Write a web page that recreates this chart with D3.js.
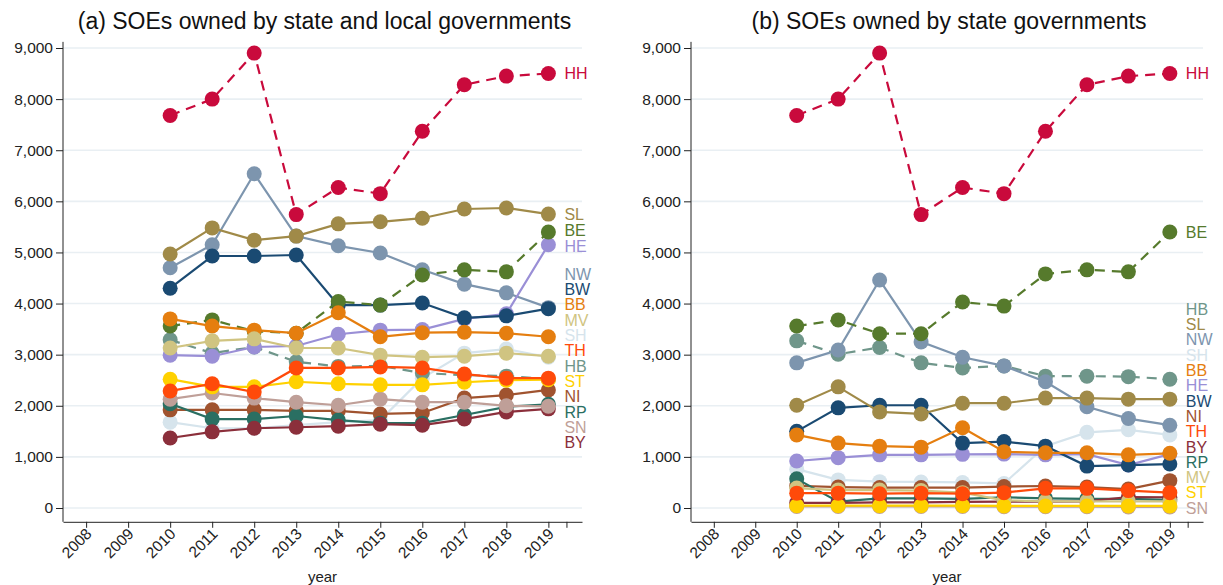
<!DOCTYPE html>
<html>
<head>
<meta charset="utf-8">
<script src="https://cdn.jsdelivr.net/npm/d3@7"></script>
<style>
  body { margin: 0; background: #fff; }
  text { font-family: "Liberation Sans", Arial, sans-serif; }
</style>
</head>
<body>
<div id="chart"></div>
<script>
// years with data, axis ticks
const years = [2010, 2011, 2012, 2013, 2014, 2015, 2016, 2017, 2018, 2019];
const xTickYears = [2008, 2009, 2010, 2011, 2012, 2013, 2014, 2015, 2016, 2017, 2018, 2019];
const yTicks = [0, 1000, 2000, 3000, 4000, 5000, 6000, 7000, 8000, 9000];

const states = ["SH", "HH", "NI", "HB", "NW", "HE", "RP", "BW", "BY", "SL", "BE", "BB", "MV", "SN", "ST", "TH"];
const stateColors = ["#d6e4ec", "#c90a3c", "#a0532f", "#6f968a", "#7d95ae", "#9a8fd6", "#2a6f62", "#1a4a72",
                     "#8b2f3b", "#a08a48", "#567a2c", "#e57e0f", "#d0c481", "#bf9f98", "#ffd100", "#ff4a0a"];
const dashedStates = ["HH", "BE", "HB"];

// (a) state and local governments
const aSH = [1680, 1560, 1560, 1620, 1680, 1720, 2540, 3030, 3110, 2950];
const aHH = [7680, 8000, 8900, 5740, 6270, 6150, 7370, 8280, 8450, 8500];
const aNI = [1920, 1920, 1920, 1900, 1900, 1840, 1860, 2150, 2210, 2310];
const aHB = [3290, 3030, 3150, 2860, 2770, 2780, 2640, 2600, 2580, 2520];
const aNW = [4700, 5150, 6540, 5320, 5130, 4990, 4660, 4380, 4210, 3920];
const aHE = [2990, 2970, 3150, 3170, 3400, 3480, 3490, 3700, 3800, 5150];
const aRP = [2040, 1740, 1740, 1800, 1720, 1660, 1660, 1820, 1980, 2030];
const aBW = [4300, 4930, 4930, 4950, 3970, 3970, 4010, 3720, 3760, 3900];
const aBY = [1370, 1490, 1560, 1580, 1600, 1640, 1620, 1740, 1880, 1940];
const aSL = [4970, 5480, 5240, 5320, 5560, 5600, 5670, 5850, 5870, 5750];
const aBE = [3560, 3680, 3460, 3420, 4040, 3970, 4560, 4660, 4620, 5400];
const aBB = [3700, 3560, 3480, 3420, 3820, 3350, 3430, 3440, 3420, 3350];
const aMV = [3130, 3270, 3310, 3130, 3130, 2990, 2950, 2970, 3030, 2970];
const aSN = [2130, 2250, 2150, 2070, 2010, 2130, 2070, 2070, 2000, 1990];
const aST = [2520, 2370, 2370, 2470, 2430, 2410, 2410, 2460, 2500, 2510];
const aTH = [2290, 2430, 2270, 2740, 2740, 2760, 2740, 2620, 2540, 2540];

// (b) state governments only
const bSH = [760, 550, 515, 510, 500, 480, 1210, 1480, 1530, 1430];
const bHH = [7680, 8000, 8900, 5740, 6270, 6150, 7370, 8280, 8450, 8500];
const bNI = [435, 410, 400, 400, 400, 420, 430, 410, 370, 535];
const bHB = [3270, 3010, 3140, 2840, 2740, 2780, 2580, 2580, 2570, 2520];
const bNW = [2840, 3090, 4460, 3250, 2950, 2780, 2470, 1980, 1750, 1620];
const bHE = [920, 985, 1040, 1040, 1050, 1055, 1040, 1055, 840, 1055];
const bRP = [570, 125, 190, 190, 180, 210, 190, 180, 180, 160];
const bBW = [1500, 1960, 2010, 2010, 1270, 1300, 1210, 820, 840, 860];
const bBY = [100, 100, 110, 110, 120, 125, 125, 130, 215, 210];
const bSL = [2010, 2370, 1880, 1840, 2050, 2050, 2150, 2150, 2130, 2130];
const bBE = [3560, 3680, 3410, 3410, 4030, 3950, 4580, 4660, 4620, 5400];
const bBB = [1430, 1270, 1210, 1190, 1570, 1100, 1080, 1080, 1040, 1070];
const bMV = [390, 350, 350, 340, 300, 150, 130, 130, 130, 130];
const bSN = [30, 30, 30, 30, 30, 25, 25, 25, 20, 20];
const bST = [45, 45, 45, 45, 45, 40, 40, 40, 40, 40];
const bTH = [290, 290, 280, 290, 280, 300, 385, 385, 340, 300];

const seriesA = { SH: aSH, HH: aHH, NI: aNI, HB: aHB, NW: aNW, HE: aHE, RP: aRP, BW: aBW,
                  BY: aBY, SL: aSL, BE: aBE, BB: aBB, MV: aMV, SN: aSN, ST: aST, TH: aTH };
const seriesB = { SH: bSH, HH: bHH, NI: bNI, HB: bHB, NW: bNW, HE: bHE, RP: bRP, BW: bBW,
                  BY: bBY, SL: bSL, BE: bBE, BB: bBB, MV: bMV, SN: bSN, ST: bST, TH: bTH };

const width = 1223, height = 585;
const svg = d3.select("#chart").append("svg")
    .attr("width", width)
    .attr("height", height);

const y = d3.scaleLinear().domain([0, 9000]).range([508, 48]);
const axisY = y(-270);
const xDomain = [2007.45, 2019.8];
const xExtraTick = 2019.43;

// push overlapping end labels apart, each group centred on the span of its points
function layoutLabels(items, gap, maxY) {
    const sorted = items.slice().sort((a, b) => b.v - a.v);
    const clusters = [];
    sorted.forEach(it => {
        clusters.push({ items: [it], top: Math.min(it.y, maxY) });
        while (clusters.length > 1) {
            const c = clusters[clusters.length - 1], p = clusters[clusters.length - 2];
            if (p.top + p.items.length * gap > c.top) {
                const merged = p.items.concat(c.items);
                const mid = (merged[0].y + merged[merged.length - 1].y) / 2;
                let top = mid - (merged.length - 1) * gap / 2;
                top = Math.min(top, maxY - (merged.length - 1) * gap);
                clusters.splice(-2, 2, { items: merged, top: top });
            } else break;
        }
    });
    clusters.forEach(c => c.items.forEach((d, i) => d.ly = c.top + i * gap));
}

function drawPanel(title, data, x0, x1) {
    const x = d3.scaleLinear().domain(xDomain).range([x0, x1]);
    const g = svg.append("g");

    // gridlines
    g.selectAll(".grid").data(yTicks).enter().append("line")
        .attr("x1", x0).attr("x2", x1)
        .attr("y1", d => y(d)).attr("y2", d => y(d))
        .attr("stroke", "#e9eff3").attr("stroke-width", 1.6);

    // y axis
    const ya = g.append("g").attr("transform", `translate(${x0},0)`)
        .call(d3.axisLeft(y).tickValues(yTicks).tickFormat(d3.format(",")).tickSize(7).tickPadding(3));
    ya.select(".domain").remove();
    ya.selectAll("text").attr("font-size", 15.5).attr("fill", "#222");
    ya.selectAll("line").attr("stroke", "#222");
    g.append("line").attr("x1", x0).attr("x2", x0).attr("y1", y(9120)).attr("y2", axisY)
        .attr("stroke", "#222");

    // x axis
    const xa = g.append("g").attr("transform", `translate(0,${axisY})`)
        .call(d3.axisBottom(x).tickValues(xTickYears.concat([xExtraTick]))
            .tickFormat(d => xTickYears.includes(d) ? d : "").tickSize(6).tickSizeOuter(0));
    xa.select(".domain").attr("stroke", "#222");
    xa.selectAll("line").attr("stroke", "#222");
    xa.selectAll("text")
        .attr("font-size", 15.5).attr("fill", "#222")
        .attr("text-anchor", "end")
        .attr("dy", null).attr("y", 0)
        .attr("transform", "translate(6,13) rotate(-45)");

    g.append("text").attr("x", (x0 + x1) / 2).attr("y", 582)
        .attr("text-anchor", "middle").attr("font-size", 15).attr("fill", "#222").text("year");
    g.append("text").attr("x", (x0 + x1) / 2 + 2).attr("y", 29)
        .attr("text-anchor", "middle").attr("font-size", 23).attr("fill", "#111").text(title);

    const series = states.map((s, i) => ({
        id: s, color: stateColors[i], dashed: dashedStates.includes(s),
        values: data[s].map((v, j) => ({ year: years[j], v: v }))
    }));

    const line = d3.line().x(d => x(d.year)).y(d => y(d.v));
    const sg = g.selectAll(".series").data(series).enter().append("g");
    sg.append("path")
        .attr("d", d => line(d.values))
        .attr("fill", "none")
        .attr("stroke", d => d.color)
        .attr("stroke-width", 2.2)
        .attr("stroke-dasharray", d => d.dashed ? "10,7" : null);
    sg.selectAll("circle").data(d => d.values.map(p => Object.assign({ color: d.color }, p)))
        .enter().append("circle")
        .attr("cx", d => x(d.year)).attr("cy", d => y(d.v)).attr("r", 7.5)
        .attr("fill", d => d.color);

    // end labels
    const last = years[years.length - 1];
    const labels = series.map(s => ({ id: s.id, color: s.color, v: data[s.id][years.length - 1],
                                      y: y(data[s.id][years.length - 1]) }));
    layoutLabels(labels, 15.3, y(0));
    g.selectAll(".lab").data(labels).enter().append("text")
        .attr("x", x(last) + 16).attr("y", d => d.ly).attr("dy", "0.36em")
        .attr("font-size", 16).attr("fill", d => d.color).text(d => d.id);
}

drawPanel("(a) SOEs owned by state and local governments", seriesA, 63, 582);
drawPanel("(b) SOEs owned by state governments", seriesB, 691, 1203);
</script>
</body>
</html>
